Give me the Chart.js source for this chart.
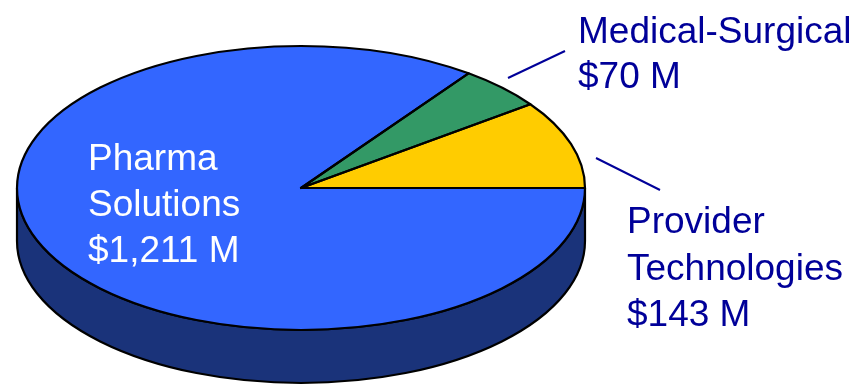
<!DOCTYPE html>
<html>
<head>
<meta charset="utf-8">
<script src="https://cdn.jsdelivr.net/npm/chart.js@4.4.1/dist/chart.umd.min.js"></script>
<style>
  html, body { margin: 0; padding: 0; background: #ffffff; }
  canvas { display: block; }
</style>
</head>
<body>
<canvas id="revenuePie" width="857" height="385"></canvas>
<script>
// Revenue by segment, $ millions
const segments = ['Pharma Solutions', 'Medical-Surgical', 'Provider Technologies'];
const revenue = [1211, 70, 143];
const topColors = ['#3366ff', '#339966', '#ffcc00'];
const sideColors = ['#1a337a', '#1d5c3d', '#997a00'];

// Tilted disc geometry (screen pixels)
const disc = { cx: 301, cy: 188, rx: 284, ry: 142, depth: 53 };

// Where each segment's label goes, plus an optional leader line
const labelLayout = [
    { x: 88, y: 170, lh: 46, color: '#ffffff' },
    { x: 578, y: 43, lh: 45, color: '#000099', line: [508, 78, 565, 51] },
    { x: 627, y: 233, lh: 46.5, color: '#000099', line: [596, 158, 660, 190] }
];

function formatValue(v) {
    return '$' + v.toLocaleString('en-US') + ' M';
}

// Draws the visible rim of the disc under each slice
function drawRim(ctx, arcs) {
    const { cx, cy, rx, ry, depth } = disc;
    arcs.forEach((arc, i) => {
        const start = Math.max(arc.startAngle, 0);
        const end = Math.min(arc.endAngle, Math.PI);
        if (end <= start) return;
        ctx.beginPath();
        ctx.ellipse(cx, cy, rx, ry, 0, start, end, false);
        ctx.ellipse(cx, cy + depth, rx, ry, 0, end, start, true);
        ctx.closePath();
        ctx.fillStyle = sideColors[i];
        ctx.fill();
        ctx.lineWidth = 2.2;
        ctx.strokeStyle = '#000000';
        ctx.lineJoin = 'round';
        ctx.stroke();
    });
}

const tiltPlugin = {
    id: 'tilt',
    beforeDatasetsDraw(chart) {
        const ctx = chart.ctx;
        const arcs = chart.getDatasetMeta(0).data;
        drawRim(ctx, arcs);
        const a = arcs[0];
        const r = a.outerRadius;
        ctx.save();
        ctx.translate(disc.cx, disc.cy);
        ctx.scale(disc.rx / r, disc.ry / r);
        ctx.translate(-a.x, -a.y);
    },
    afterDatasetsDraw(chart) {
        const ctx = chart.ctx;
        ctx.restore();
        // slice outlines on the top face
        const { cx, cy, rx, ry } = disc;
        chart.getDatasetMeta(0).data.forEach(arc => {
            ctx.beginPath();
            ctx.moveTo(cx, cy);
            ctx.ellipse(cx, cy, rx, ry, 0, arc.startAngle, arc.endAngle, false);
            ctx.closePath();
            ctx.lineWidth = 2.2;
            ctx.strokeStyle = '#000000';
            ctx.lineJoin = 'round';
            ctx.stroke();
        });
    },
    afterDraw(chart) {
        const ctx = chart.ctx;
        ctx.save();
        ctx.font = '37px "Liberation Sans", Arial, sans-serif';
        ctx.textAlign = 'left';
        ctx.textBaseline = 'alphabetic';
        segments.forEach((name, i) => {
            const lay = labelLayout[i];
            const lines = name.split(' ').concat(formatValue(revenue[i]));
            ctx.fillStyle = lay.color;
            lines.forEach((txt, k) => ctx.fillText(txt, lay.x, lay.y + k * lay.lh));
            if (lay.line) {
                ctx.beginPath();
                ctx.moveTo(lay.line[0], lay.line[1]);
                ctx.lineTo(lay.line[2], lay.line[3]);
                ctx.strokeStyle = '#000099';
                ctx.lineWidth = 2;
                ctx.stroke();
            }
        });
        ctx.restore();
    }
};

new Chart(document.getElementById('revenuePie'), {
    type: 'pie',
    data: {
        labels: segments,
        datasets: [{
            data: revenue,
            backgroundColor: topColors,
            borderWidth: 0
        }]
    },
    options: {
        responsive: false,
        animation: false,
        rotation: 90,
        layout: { padding: 0 },
        plugins: {
            legend: { display: false },
            tooltip: { enabled: false }
        },
        events: []
    },
    plugins: [tiltPlugin]
});
</script>
</body>
</html>
